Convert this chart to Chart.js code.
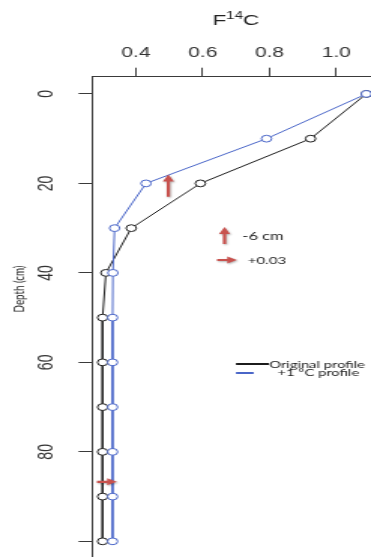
<!DOCTYPE html>
<html>
<head>
<meta charset="utf-8">
<style>
  html, body { margin: 0; padding: 0; background: #fff; overflow: hidden; }
</style>
<script src="https://cdn.jsdelivr.net/npm/chart.js@4/dist/chart.umd.min.js"></script>
</head>
<body>
<!-- drawn on a narrow backing canvas and widened by CSS, giving the wide-stretched look -->
<canvas id="c" width="247" height="557" style="width:371px;height:557px;display:block"></canvas>
<script>
// Soil radiocarbon profile: depth (cm) vs F14C
const depths = [0, 10, 20, 30, 40, 50, 60, 70, 80, 90, 100];
const originalF14C = [1.09, 0.923, 0.593, 0.386, 0.31, 0.30, 0.30, 0.30, 0.30, 0.30, 0.30];
const warmedF14C   = [1.09, 0.791, 0.43, 0.336, 0.331, 0.33, 0.33, 0.33, 0.33, 0.33, 0.33];

const xTicks = [0.4, 0.6, 0.8, 1.0];
const xTickLabels = ['0.4', '0.6', '0.8', '1.0'];
const yTicks = [0, 20, 40, 60, 80, 100];
const yTickLabels = ['0', '20', '40', '60', '80', ''];

const seriesNames = ['Original profile', '+1 \u00B0C profile'];
const shiftLabels = ['-6 cm', '+0.03'];

const BLACK = '#1c1c1c';
const BLUE = '#4a66c8';
const RED = '#c8524e';
const AXIS = '#3a3a3a';

function toPoints(xs) {
  return depths.map((d, i) => ({ x: xs[i], y: d }));
}

// fixed axis band sizes; no extra label overhang padding
function fixBand(prop, size) {
  return s => {
    s[prop] = size;
    s.paddingLeft = s.paddingRight = s.paddingTop = s.paddingBottom = 0;
  };
}

function arrow(ctx, x0, y0, x1, y1, shaft, headW, headL) {
  const dx = x1 - x0, dy = y1 - y0;
  const len = Math.hypot(dx, dy);
  const ux = dx / len, uy = dy / len;
  const px = -uy, py = ux;
  const bx = x1 - ux * headL, by = y1 - uy * headL;
  ctx.beginPath();
  ctx.moveTo(x0 + px * shaft / 2, y0 + py * shaft / 2);
  ctx.lineTo(bx + px * shaft / 2, by + py * shaft / 2);
  ctx.lineTo(bx + px * headW / 2, by + py * headW / 2);
  ctx.lineTo(x1, y1);
  ctx.lineTo(bx - px * headW / 2, by - py * headW / 2);
  ctx.lineTo(bx - px * shaft / 2, by - py * shaft / 2);
  ctx.lineTo(x0 - px * shaft / 2, y0 - py * shaft / 2);
  ctx.closePath();
  ctx.fill();
}

const annotate = {
  id: 'annotate',
  afterDraw(chart) {
    const { ctx, scales: { x, y } } = chart;
    ctx.save();

    // axis title F14C with raised 14
    const big = '15px "Liberation Sans", Arial, sans-serif';
    const small = '10px "Liberation Sans", Arial, sans-serif';
    ctx.fillStyle = '#222';
    ctx.textBaseline = 'alphabetic';
    ctx.textAlign = 'left';
    ctx.font = big;
    const wF = ctx.measureText('F').width, wC = ctx.measureText('C').width;
    ctx.font = small;
    const wS = ctx.measureText('14').width;
    let tx = 157 - (wF + wS + wC) / 2;
    const base = 25;
    ctx.font = big; ctx.fillText('F', tx, base); tx += wF;
    ctx.font = small; ctx.fillText('14', tx, base - 6); tx += wS;
    ctx.font = big; ctx.fillText('C', tx, base);

    // depth axis title
    ctx.save();
    ctx.translate(13.3, 289);
    ctx.rotate(-Math.PI / 2);
    ctx.textAlign = 'center';
    ctx.textBaseline = 'middle';
    ctx.font = '9.8px Lato, sans-serif';
    ctx.fillText('Depth (cm)', 0, 0);
    ctx.restore();

    // shift arrows
    ctx.save();
    ctx.fillStyle = RED;
    ctx.shadowColor = 'rgba(0,0,0,0.3)';
    ctx.shadowBlur = 2;
    ctx.shadowOffsetX = 0.7;
    ctx.shadowOffsetY = 1;
    // upward shift of the profile near 20 cm
    arrow(ctx, x.getPixelForValue(0.497), y.getPixelForValue(23.0),
               x.getPixelForValue(0.497), y.getPixelForValue(18.0), 2.2, 7.5, 7);
    // rightward shift at depth
    arrow(ctx, x.getPixelForValue(0.283), y.getPixelForValue(86.7),
               x.getPixelForValue(0.343), y.getPixelForValue(86.7), 2.2, 7, 6.5);
    // key arrows
    arrow(ctx, 149.5, 244, 149.5, 227, 2.2, 7.5, 7);
    arrow(ctx, 144.5, 260, 157.8, 260, 2.2, 7, 6.5);
    ctx.restore();

    ctx.fillStyle = '#222';
    ctx.textAlign = 'left';
    ctx.textBaseline = 'middle';
    ctx.font = '11px Lato, sans-serif';
    ctx.fillText(shiftLabels[0], 161.3, 236);
    ctx.font = '10px Lato, sans-serif';
    ctx.fillText(shiftLabels[1], 165, 261);

    // series key
    ctx.lineWidth = 2;
    ctx.strokeStyle = BLACK;
    ctx.beginPath(); ctx.moveTo(157.1, 364); ctx.lineTo(179, 364); ctx.stroke();
    ctx.strokeStyle = BLUE;
    ctx.beginPath(); ctx.moveTo(157.1, 373); ctx.lineTo(168.9, 373); ctx.stroke();
    ctx.font = '9.8px Lato, sans-serif';
    ctx.fillText(seriesNames[0], 179.3, 364.5);
    ctx.fillText(seriesNames[1], 184.7, 373);

    ctx.restore();
  }
};

new Chart(document.getElementById('c'), {
  type: 'scatter',
  data: {
    datasets: [
      {
        label: seriesNames[1],
        data: toPoints(warmedF14C),
        showLine: true,
        order: 0,
        borderColor: BLUE,
        borderWidth: 1,
        pointRadius: 3.4,
        pointBorderWidth: 1,
        pointBackgroundColor: '#fff',
        pointBorderColor: BLUE,
        tension: 0,
        clip: false
      },
      {
        label: seriesNames[0],
        data: toPoints(originalF14C),
        showLine: true,
        order: 1,
        borderColor: BLACK,
        borderWidth: 1,
        pointRadius: 3.4,
        pointBorderWidth: 1,
        pointBackgroundColor: '#fff',
        pointBorderColor: BLACK,
        tension: 0,
        clip: false
      }
    ]
  },
  options: {
    responsive: false,
    devicePixelRatio: 1,
    animation: false,
    events: [],
    layout: { padding: 0, autoPadding: false },
    plugins: { legend: { display: false }, tooltip: { enabled: false } },
    scales: {
      x: {
        type: 'linear',
        position: 'top',
        min: 0.2686,
        max: 1.104,
        afterBuildTicks: s => { s.ticks = xTicks.map(v => ({ value: v })); },
        afterFit: fixBand('height', 76.7),
        border: { display: true, color: AXIS, width: 1 },
        grid: { drawOnChartArea: false, drawTicks: true, tickLength: 9, color: AXIS },
        ticks: {
          padding: 6,
          color: '#333',
          font: { family: '"Liberation Sans", Arial, sans-serif', size: 14 },
          callback: (v, i) => xTickLabels[i],
          maxRotation: 0,
          minRotation: 0
        }
      },
      y: {
        type: 'linear',
        position: 'left',
        reverse: true,
        min: -3.85,
        max: 103.5,
        afterBuildTicks: s => { s.ticks = yTicks.map(v => ({ value: v })); },
        afterFit: fixBand('width', 61.3),
        border: { display: true, color: AXIS, width: 1 },
        grid: { drawOnChartArea: false, drawTicks: true, tickLength: 9, color: AXIS },
        ticks: {
          padding: 13,
          crossAlign: 'center',
          minRotation: 90,
          maxRotation: 90,
          color: '#333',
          font: { family: '"Liberation Sans", Arial, sans-serif', size: 14 },
          callback: (v, i) => yTickLabels[i]
        }
      }
    }
  },
  plugins: [annotate]
});
</script>
</body>
</html>
